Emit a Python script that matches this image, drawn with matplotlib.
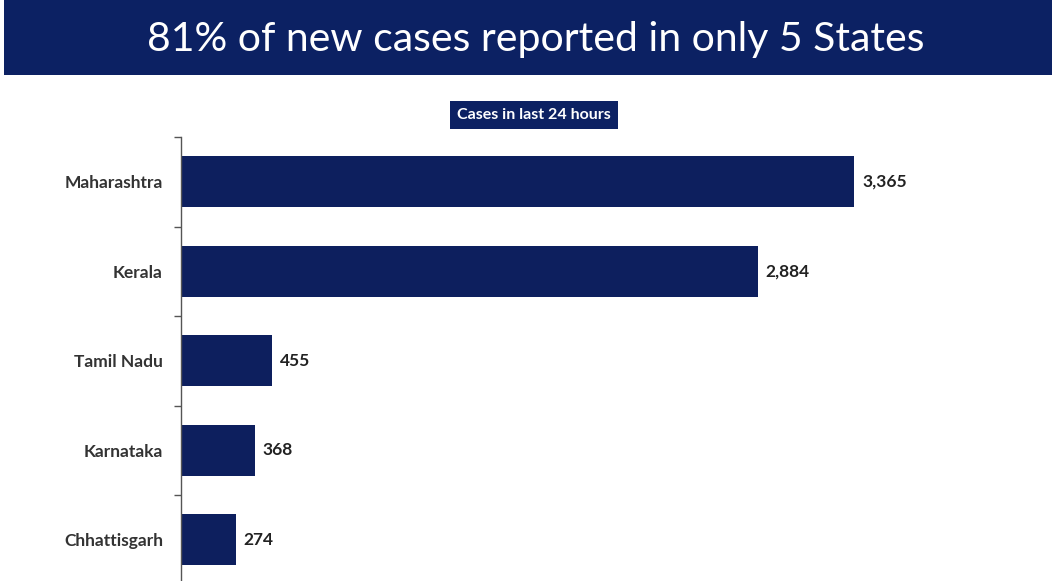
import matplotlib
matplotlib.use("Agg")
import matplotlib.pyplot as plt
from matplotlib.patches import Rectangle

states = ['Maharashtra', 'Kerala', 'Tamil Nadu', 'Karnataka', 'Chhattisgarh']
cases = [3365, 2884, 455, 368, 274]
value_labels = ['3,365', '2,884', '455', '368', '274']

title = '81% of new cases reported in only 5 States'
subtitle = 'Cases in last 24 hours'

NAVY = '#0c2163'
BAR = '#0d1f5e'

W, H = 1052, 581
fig = plt.figure(figsize=(W / 100, H / 100), dpi=100)
fig.patch.set_facecolor('white')

# banner across the top
fig.patches.append(Rectangle((4 / W, 1 - 75 / H), 1 - 4 / W, 75 / H,
                             transform=fig.transFigure, facecolor=NAVY,
                             edgecolor='none', zorder=0))
fig.text(536 / W, 1 - 40 / H, title, color='white', fontsize=29.5,
         family='Lato', ha='center', va='center')

fig.text(534 / W, 1 - 115 / H, subtitle, color='white', fontsize=11.5,
         family='Lato', fontweight='bold', ha='center', va='center',
         bbox=dict(boxstyle='square,pad=0.45', facecolor=NAVY, edgecolor='none'))

ax = fig.add_axes([181 / W, -3.5 / H, 860 / W, 447.5 / H])
y = list(range(len(states)))
ax.barh(y, cases, height=0.57, color=BAR)
ax.set_ylim(len(states) - 0.5, -0.5)
ax.set_xlim(0, 4300)

for yi, v, lab in zip(y, cases, value_labels):
    ax.text(v + 40, yi, lab, va='center', ha='left', fontsize=12.5,
            family='Lato', fontweight='bold', color='#222222')

ax.set_yticks(y)
ax.set_yticklabels(states, family='Lato', fontweight='bold', fontsize=12.5,
                   color='#333333')
ax.tick_params(axis='y', which='major', length=0, pad=13)
ax.set_yticks([i - 0.5 for i in range(len(states) + 1)], minor=True)
ax.tick_params(axis='y', which='minor', length=5, width=1, color='#555555',
               direction='out')
ax.set_xticks([])
for side in ['top', 'right', 'bottom']:
    ax.spines[side].set_visible(False)
ax.spines['left'].set_color('#555555')
ax.spines['left'].set_linewidth(1)

fig.savefig('out.png', dpi=100)
